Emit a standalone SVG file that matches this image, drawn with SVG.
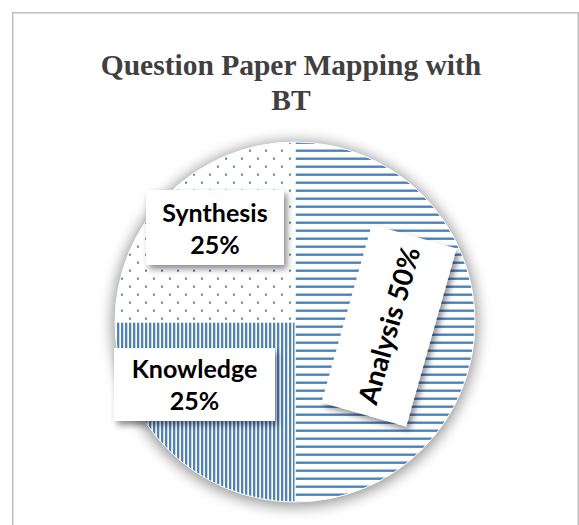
<svg xmlns="http://www.w3.org/2000/svg" width="579" height="525" viewBox="0 0 579 525">
  <style>
    .title { font-family: "Liberation Serif", "Times New Roman", serif; font-weight: bold; font-size: 29.5px; fill: #404040; text-anchor: middle; }
    .lbl { font-family: Lato, "Open Sans", "Liberation Sans", sans-serif; font-weight: bold; font-size: 25px; fill: #000; text-anchor: middle; }
    .box { fill: #fff; }
    .slice { stroke: #fff; stroke-width: 1; }
  </style>
  <defs>
    <pattern id="pH" patternUnits="userSpaceOnUse" width="8" height="8">
      <rect width="8" height="8" fill="#fff"/>
      <rect x="0" y="5.5" width="8" height="2.4" fill="#4F81BD"/>
    </pattern>
    <pattern id="pV" patternUnits="userSpaceOnUse" width="4" height="4">
      <rect width="4" height="4" fill="#fff"/>
      <rect x="1" y="0" width="2.3" height="4" fill="#4F81BD"/>
    </pattern>
    <pattern id="pD" patternUnits="userSpaceOnUse" width="16" height="16">
      <rect width="16" height="16" fill="#fff"/>
      <rect x="1" y="13.7" width="2" height="2" fill="#4F81BD"/>
      <rect x="9" y="5.7" width="2" height="2" fill="#4F81BD"/>
    </pattern>
    <filter id="pieShadow" x="-20%" y="-20%" width="140%" height="140%">
      <feGaussianBlur stdDeviation="7"/>
    </filter>
    <filter id="boxShadow" x="-20%" y="-20%" width="140%" height="140%">
      <feDropShadow dx="3" dy="4" stdDeviation="3" flood-color="#000" flood-opacity="0.45"/>
    </filter>
  </defs>

  <rect x="0" y="0" width="579" height="525" fill="#fff"/>
  <rect x="12.75" y="12.75" width="565.5" height="600" fill="#fff" stroke="#BFBFBF" stroke-width="1.5"/>

  <g id="title">
    <text class="title" x="291" y="75">Question Paper Mapping with</text>
    <text class="title" x="291" y="110">BT</text>
  </g>

  <circle cx="295" cy="324" r="183" fill="#000" opacity="0.4" filter="url(#pieShadow)"/>

  <g id="slice-analysis">
    <path class="slice" d="M295,322 L295,142 A180,180 0 0,1 295,502 Z" fill="url(#pH)"/>
  </g>
  <g id="slice-knowledge">
    <path class="slice" d="M295,322 L295,502 A180,180 0 0,1 115,322 Z" fill="url(#pV)"/>
  </g>
  <g id="slice-synthesis">
    <path class="slice" d="M295,322 L115,322 A180,180 0 0,1 295,142 Z" fill="url(#pD)"/>
  </g>

  <g id="connectors"></g>

  <g id="label-synthesis">
    <rect class="box" x="146" y="190" width="138" height="75" filter="url(#boxShadow)"/>
    <text class="lbl" x="215" y="222">Synthesis</text>
    <text class="lbl" x="215" y="254">25%</text>
  </g>

  <g id="label-knowledge">
    <rect class="box" x="114" y="348" width="161" height="73" filter="url(#boxShadow)"/>
    <text class="lbl" x="194.5" y="378">Knowledge</text>
    <text class="lbl" x="194.5" y="410">25%</text>
  </g>

  <g id="label-analysis">
    <g filter="url(#boxShadow)">
      <rect class="box" x="-92.5" y="-44" width="185" height="88" transform="translate(389,325.5) rotate(-74.2)"/>
    </g>
    <text class="lbl" style="font-size:27.5px" x="0" y="10" transform="translate(389,325.5) rotate(-74.2)">Analysis 50%</text>
  </g>
</svg>
